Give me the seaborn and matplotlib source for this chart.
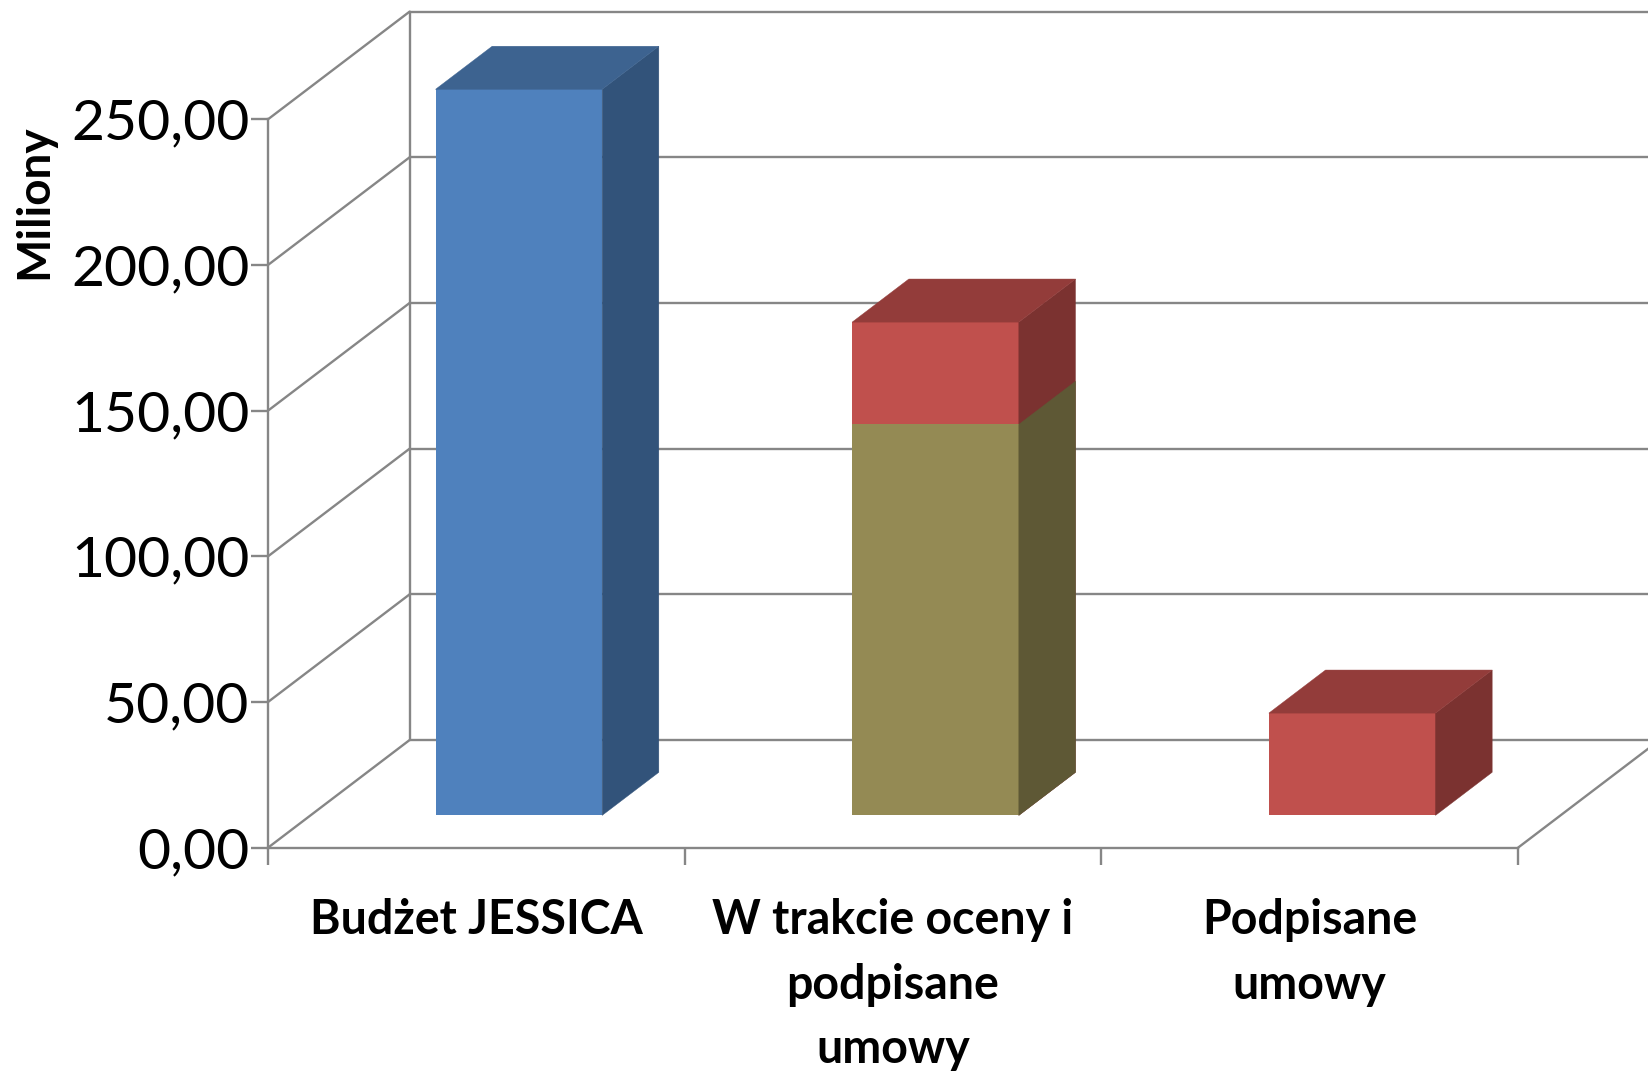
import matplotlib
matplotlib.use("Agg")
import matplotlib.pyplot as plt
import matplotlib.transforms as mtransforms
from matplotlib.patches import Polygon
import seaborn as sns

# Chart data (values in millions)
categories = ["Budżet JESSICA", "W trakcie oceny i\npodpisane\numowy", "Podpisane\numowy"]
budzet = [249.2, 0, 0]
w_trakcie = [0, 134.2, 0]
podpisane = [0, 35.1, 35.1]
yticks = [0, 50, 100, 150, 200, 250]
ytick_labels = ["0,00", "50,00", "100,00", "150,00", "200,00", "250,00"]

sns.set_style("white")
plt.rcParams["font.family"] = ["Lato", "DejaVu Sans"]
plt.rcParams["text.color"] = "black"
plt.rcParams["xtick.labelcolor"] = "black"
plt.rcParams["ytick.labelcolor"] = "black"

GRID = "#868686"
LW = 1.7
# depth of the 3D box in data units (x in categories, y in values)
DX, DY = 0.34, 36.97
FRONT, DEPTH = 0.3, 0.4   # bars sit between 30% and 70% of the depth

fig = plt.figure(figsize=(16.48, 10.72), dpi=100)
ax = fig.add_axes([268 / 1648, (1072 - 847.7) / 1072, 1250 / 1648, 728.4 / 1072])

# stacked: red is drawn to the full stack height, olive over its lower part
totals = [a + b for a, b in zip(w_trakcie, podpisane)]
series = [
    (totals, "#C0504D", "#7B3230", "#933C3A", 2),
    (w_trakcie, "#948A54", "#5E5835", "#7A7245", 3),
    (budzet, "#4F81BD", "#32537A", "#3D6390", 2),
]

shift = mtransforms.Affine2D().translate(FRONT * DX, FRONT * DY) + ax.transData
for values, front, side, top, z in series:
    n0 = len(ax.patches)
    sns.barplot(x=categories, y=values, color=front, saturation=1, width=0.4,
                errorbar=None, linewidth=0, ax=ax)
    for p in ax.patches[n0:]:
        h = p.get_height()
        if h <= 0:
            p.set_visible(False)
            continue
        p.set_transform(shift)
        p.set_zorder(z)
        p.set_clip_on(False)
        x0, x1 = p.get_x(), p.get_x() + p.get_width()
        y0, y1 = p.get_y(), p.get_y() + h
        ddx, ddy = DEPTH * DX, DEPTH * DY
        side_poly = Polygon([(x1, y0), (x1 + ddx, y0 + ddy), (x1 + ddx, y1 + ddy), (x1, y1)],
                            closed=True, facecolor=side, edgecolor=side, lw=0.3,
                            transform=shift, zorder=z, clip_on=False)
        top_poly = Polygon([(x0, y1), (x1, y1), (x1 + ddx, y1 + ddy), (x0 + ddx, y1 + ddy)],
                           closed=True, facecolor=top, edgecolor=top, lw=0.3,
                           transform=shift, zorder=z, clip_on=False)
        ax.add_patch(side_poly)
        if values is not w_trakcie:
            ax.add_patch(top_poly)

xmin, xmax = -0.5, len(categories) - 0.5
ax.set_xlim(xmin, xmax)
ax.set_ylim(0, 250)

# back wall, left wall and floor edges
for y in yticks:
    ax.plot([xmin + DX, xmax + DX + 1], [y + DY, y + DY], color=GRID, lw=LW,
            clip_on=False, zorder=1)
    ax.plot([xmin, xmin + DX], [y, y + DY], color=GRID, lw=LW, clip_on=False, zorder=1)
ax.plot([xmin + DX, xmin + DX], [DY, 250 + DY], color=GRID, lw=LW, clip_on=False, zorder=1)
ax.plot([xmax, xmax + DX], [0, DY], color=GRID, lw=LW, clip_on=False, zorder=1)

for s in ["top", "right"]:
    ax.spines[s].set_visible(False)
for s in ["left", "bottom"]:
    ax.spines[s].set_color(GRID)
    ax.spines[s].set_linewidth(LW)

ax.set_yticks(yticks, ytick_labels)
ax.tick_params(axis="y", direction="out", length=12, width=LW, color=GRID,
               pad=1.5, labelsize=41, left=True)
ax.set_xticks([xmin + i for i in range(len(categories) + 1)], [""] * (len(categories) + 1))
ax.set_xticks(range(len(categories)), categories, minor=True, fontweight="bold",
              linespacing=1.58)
ax.tick_params(axis="x", which="major", direction="out", length=12, width=LW,
               color=GRID, bottom=True)
ax.tick_params(axis="x", which="minor", length=0, pad=36, labelsize=33.5)
ax.set_xlabel("")
ax.set_ylabel("")

fig.text(34 / 1648, 1 - 202 / 1072, "Miliony", rotation=90, ha="center", va="center",
         fontsize=33, fontweight="bold")

fig.savefig("out.png", dpi=100, facecolor="white")
